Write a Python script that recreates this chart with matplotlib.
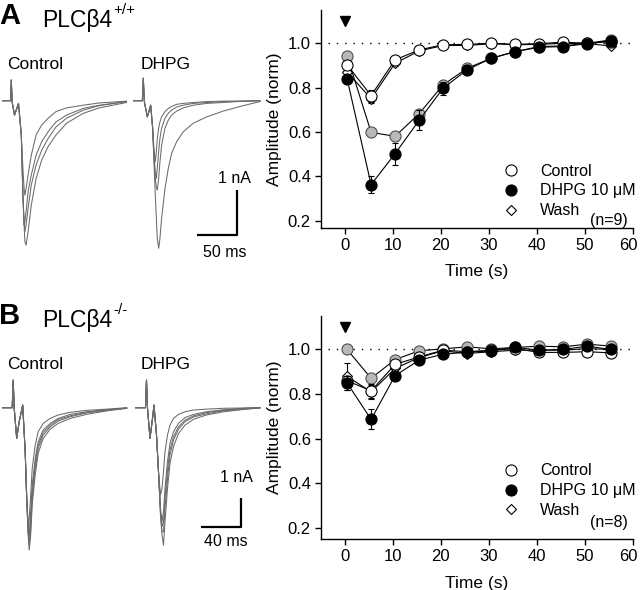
import matplotlib
matplotlib.use("Agg")
import matplotlib.pyplot as plt
from matplotlib.lines import Line2D
from matplotlib.transforms import ScaledTranslation

plt.rcParams['font.family'] = ['Liberation Sans', 'DejaVu Sans']

W, H = 640, 590

# ---------------- data: normalized amplitude vs time ----------------
times = [0.5, 5.5, 10.5, 15.5, 20.5, 25.5, 30.5, 35.5, 40.5, 45.5, 50.5, 55.5]

A_control = [0.902, 0.764, 0.925, 0.970, 0.993, 0.995, 1.000, 0.995, 0.998, 1.005, 1.000, 1.007]
A_dhpg = [0.840, 0.362, 0.502, 0.652, 0.797, 0.880, 0.932, 0.962, 0.982, 0.985, 0.998, 1.012]
A_wash = [0.870, 0.750, 0.910, 0.965, 0.990, 0.990, 0.998, 0.993, 0.995, 1.000, 0.998, 0.988]
A_gray = [0.943, 0.598, 0.580, 0.682, 0.812, 0.887, 0.932, 0.962, 0.985, 0.988, 1.000, 1.015]
A_control_err = [0.010, 0.027, 0.010, 0.008, 0.005, 0.005, 0.004, 0.004, 0.004, 0.004, 0.004, 0.004]
A_dhpg_err = [0.015, 0.037, 0.050, 0.045, 0.030, 0.020, 0.012, 0.008, 0.006, 0.005, 0.005, 0.005]
A_gray_err = [0.010, 0.015, 0.020, 0.015, 0.012, 0.010, 0.008, 0.006, 0.005, 0.005, 0.005, 0.005]
A_wash_err = [0.010, 0.020, 0.012, 0.008, 0.005, 0.005, 0.004, 0.004, 0.004, 0.004, 0.004, 0.004]

B_control = [0.860, 0.815, 0.933, 0.967, 0.997, 0.990, 0.997, 1.004, 0.987, 0.987, 0.990, 0.985]
B_dhpg = [0.850, 0.687, 0.883, 0.952, 0.979, 0.988, 0.994, 1.009, 0.997, 1.000, 1.015, 1.000]
B_wash = [0.880, 0.810, 0.915, 0.964, 0.994, 0.982, 0.990, 0.997, 0.997, 0.997, 1.004, 1.000]
B_gray = [1.000, 0.871, 0.955, 0.994, 1.003, 1.012, 1.003, 1.009, 1.015, 1.012, 1.024, 1.015]
B_control_err = [0.020, 0.030, 0.012, 0.008, 0.005, 0.005, 0.004, 0.004, 0.004, 0.004, 0.004, 0.004]
B_dhpg_err = [0.030, 0.045, 0.020, 0.010, 0.006, 0.005, 0.004, 0.004, 0.004, 0.004, 0.004, 0.004]
B_wash_err = [0.060, 0.030, 0.015, 0.008, 0.005, 0.005, 0.004, 0.004, 0.004, 0.004, 0.004, 0.004]
B_gray_err = [0.005, 0.015, 0.008, 0.005, 0.004, 0.004, 0.004, 0.004, 0.004, 0.004, 0.004, 0.004]

legend_labels = ["Control", "DHPG 10 \u03bcM", "Wash"]
n_labels = ["(n=9)", "(n=8)"]
x_ticks = [0, 10, 20, 30, 40, 50, 60]
y_ticks = [0.2, 0.4, 0.6, 0.8, 1.0]
stim_time = 0

# ---------------- data: EPSC traces (time in ms, current in nA) ----------------
tA_ctrl = [0, 11, 12, 13, 16, 21, 24.5, 26.5, 28, 29, 30.5, 33, 37, 43, 50, 58, 68, 81, 102, 122, 156]
A_ctrl_traces = [
    [0, 0, 0.46, -0.02, -0.32, -0.06, -0.76, -1.50, -1.95, -2.10, -1.95, -1.65, -1.21, -0.76, -0.54, -0.39, -0.24, -0.16, -0.10, -0.05, -0.01],
    [0, 0, 0.46, -0.02, -0.32, -0.06, -0.76, -2.10, -2.76, -2.69, -2.47, -2.02, -1.65, -1.21, -0.91, -0.69, -0.47, -0.32, -0.17, -0.10, -0.02],
    [0, 0, 0.46, -0.02, -0.32, -0.06, -0.76, -2.10, -2.69, -2.91, -2.76, -2.39, -1.87, -1.43, -1.10, -0.84, -0.58, -0.39, -0.21, -0.11, -0.02],
    [0, 0, 0.46, -0.02, -0.32, -0.06, -0.76, -2.10, -2.76, -3.13, -3.21, -2.91, -2.32, -1.73, -1.32, -1.02, -0.76, -0.50, -0.28, -0.16, -0.04],
]
tA_dhpg = [0, 11.3, 12.5, 13.8, 17.5, 21.7, 24.2, 25.8, 27.5, 28.8, 30, 31.7, 33.3, 35.4, 39.6, 43.8, 47.9, 54.2, 62.5, 75, 91.7, 112.5, 137.5, 158.3]
A_dhpg_traces = [
    [0, 0, 0.50, -0.02, -0.36, -0.10, -0.61, -1.06, -1.36, -1.13, -0.84, -0.61, -0.47, -0.36, -0.24, -0.17, -0.13, -0.08, -0.06, -0.04, -0.02, -0.01, -0.01, 0],
    [0, 0, 0.50, -0.02, -0.36, -0.10, -0.61, -1.21, -1.58, -1.73, -1.50, -1.13, -0.84, -0.61, -0.39, -0.28, -0.21, -0.14, -0.10, -0.06, -0.04, -0.02, -0.01, 0],
    [0, 0, 0.50, -0.02, -0.36, -0.10, -0.61, -1.28, -1.73, -1.91, -1.99, -1.73, -1.36, -0.99, -0.61, -0.43, -0.32, -0.23, -0.16, -0.10, -0.06, -0.04, -0.01, 0],
    [0, 0, 0.50, -0.02, -0.36, -0.10, -0.61, -1.36, -2.10, -2.61, -3.06, -3.28, -3.06, -2.61, -1.95, -1.50, -1.17, -0.91, -0.69, -0.50, -0.36, -0.23, -0.11, -0.02],
]
tB_ctrl = [0, 10.5, 11.5, 12.5, 15, 17.5, 21, 23.5, 25, 26.5, 27.5, 29, 30.5, 33.5, 36.5, 41.5, 48.5, 56.5, 68.5, 85, 105, 125]
B_ctrl_traces = [
    [0, 0, 0.95, -0.02, -1.06, -0.48, 0.09, -1.52, -3.01, -4.05, -3.82, -3.01, -2.09, -1.29, -0.83, -0.54, -0.37, -0.25, -0.16, -0.09, -0.05, 0],
    [0, 0, 0.95, -0.02, -1.06, -0.48, 0.09, -1.52, -3.13, -4.28, -4.33, -3.59, -2.67, -1.75, -1.17, -0.77, -0.54, -0.37, -0.23, -0.14, -0.07, -0.01],
    [0, 0, 0.95, -0.02, -1.06, -0.48, 0.09, -1.52, -3.13, -4.28, -4.51, -3.82, -2.90, -1.92, -1.29, -0.85, -0.60, -0.41, -0.28, -0.16, -0.08, -0.01],
    [0, 0, 0.95, -0.02, -1.06, -0.48, 0.09, -1.52, -3.13, -4.33, -4.74, -4.16, -3.13, -2.09, -1.40, -0.94, -0.66, -0.46, -0.31, -0.18, -0.09, -0.02],
    [0, 0, 0.95, -0.02, -1.06, -0.48, 0.09, -1.52, -3.13, -4.39, -4.91, -4.39, -3.36, -2.32, -1.57, -1.06, -0.74, -0.54, -0.37, -0.23, -0.11, -0.02],
]
tB_dhpg = [0, 10.5, 11.5, 12.5, 15, 17.5, 19, 21.5, 23.5, 25.5, 27, 28.5, 30, 32.5, 35, 38.5, 43.5, 50, 58.5, 71.5, 88.5, 108.5, 125]
B_dhpg_traces = [
    [0, 0, 0.95, -0.02, -1.06, -0.37, 0.09, -0.94, -2.21, -3.01, -2.78, -2.21, -1.52, -0.94, -0.60, -0.37, -0.23, -0.14, -0.08, -0.05, -0.02, -0.01, 0],
    [0, 0, 0.95, -0.02, -1.06, -0.37, 0.09, -0.94, -2.21, -3.47, -3.93, -3.59, -2.78, -1.86, -1.23, -0.83, -0.54, -0.34, -0.23, -0.14, -0.07, -0.02, 0],
    [0, 0, 0.95, -0.02, -1.06, -0.37, 0.09, -0.94, -2.21, -3.59, -4.10, -3.93, -3.13, -2.15, -1.46, -1.00, -0.66, -0.43, -0.28, -0.17, -0.09, -0.03, 0],
    [0, 0, 0.95, -0.02, -1.06, -0.37, 0.09, -0.94, -2.21, -3.64, -4.28, -4.28, -3.47, -2.44, -1.63, -1.11, -0.74, -0.48, -0.32, -0.21, -0.11, -0.05, 0],
    [0, 0, 0.95, -0.02, -1.06, -0.37, 0.09, -0.94, -2.21, -3.70, -4.39, -4.74, -3.93, -2.78, -1.92, -1.34, -0.89, -0.60, -0.40, -0.25, -0.14, -0.06, -0.01],
]
scale_nA = 1.0
scale_ms_A = 50
scale_ms_B = 40
trace_titles = ["Control", "DHPG"]
genotypes = [("A", "+/+"), ("B", "-/-")]

# ---------------- figure ----------------
fig = plt.figure(figsize=(W / 100, H / 100), dpi=100)


def px_axes(x0, y0, x1, y1):
    return fig.add_axes([x0 / W, 1 - y1 / H, (x1 - x0) / W, (y1 - y0) / H])


TRACE_COLOR = '0.42'


def trace_axes(x0, y0, x1, y1, ms_per_px, px_per_nA, base_y, t_list, traces):
    ax = px_axes(x0, y0, x1, y1)
    ax.set_xlim(0, (x1 - x0) * ms_per_px)
    ax.set_ylim(-(y1 - base_y) / px_per_nA, (base_y - y0) / px_per_nA)
    ax.axis('off')
    for tr in traces:
        ax.plot(t_list, tr, color=TRACE_COLOR, lw=0.75, solid_joinstyle='round')
    return ax


# Panel A traces
axAc = trace_axes(1.7, 70, 131.7, 260, 1.25, 45, 100.7, tA_ctrl, A_ctrl_traces)
axAd = trace_axes(133.3, 70, 263.3, 260, 1.25, 45, 100.7, tA_dhpg, A_dhpg_traces)
# Panel B traces
axBc = trace_axes(1.7, 370, 131.7, 565, 1.0, 29, 407.7, tB_ctrl, B_ctrl_traces)
axBd = trace_axes(135, 370, 265, 565, 1.0, 29, 407.7, tB_dhpg, B_dhpg_traces)


# scale bars (drawn in the DHPG trace axes)
def scale_bar(ax, x_end, y_bot, ms_len, nA_len, lab_ms, lab_nA, xt_nA, yt_nA, xt_ms, yt_ms):
    ax.plot([x_end - ms_len, x_end, x_end], [y_bot, y_bot, y_bot + nA_len],
            color='black', lw=1.6, clip_on=False, solid_capstyle='butt')
    ax.text(xt_nA, yt_nA, lab_nA, ha='center', va='baseline', fontsize=11.5)
    ax.text(xt_ms, yt_ms, lab_ms, ha='center', va='top', fontsize=11.5)


scale_bar(axAd, 129.6, -2.98, scale_ms_A, scale_nA, f"{scale_ms_A} ms", f"{scale_nA:g} nA",
          126, -1.83, 114, -3.2)
scale_bar(axBd, 106, -4.1, scale_ms_B, scale_nA, f"{scale_ms_B} ms", f"{scale_nA:g} nA",
          101, -2.55, 91, -4.35)


# text labels
def ftext(x, y, s, **kw):
    fig.text(x / W, 1 - y / H, s, **kw)


for yb, (letter, sup) in zip([0, 300], genotypes):
    ftext(-1, yb + 24, letter, fontsize=21, fontweight='bold', va='baseline', ha='left')
    ftext(42, yb + 27, "PLC\u03b24", fontsize=16.5, va='baseline', ha='left')
    ftext(113, yb + 14, sup, fontsize=11, va='baseline', ha='left')
    ftext(7, yb + 69, trace_titles[0], fontsize=12.5, va='baseline', ha='left')
    ftext(141, yb + 69, trace_titles[1], fontsize=12.5, va='baseline', ha='left')


# ---------------- scatter panels ----------------
def amp_panel(rect_px, ylim, series, errs, n_label, leg_top):
    x0, y0, x1, y1 = rect_px
    ax = px_axes(x0, y0, x1, y1)
    ctrl, dhpg, wash, gray = series
    e_ctrl, e_dhpg, e_wash, e_gray = errs
    ax.set_xlim(-5, 60)
    ax.set_ylim(*ylim)
    ax.hlines(1.0, -3.5, 60, colors='black', linestyles=(0, (1, 5)), lw=1.0, zorder=1)
    ekw = dict(ecolor='black', elinewidth=0.8, capsize=2.2, capthick=0.8)
    ax.errorbar(times, wash, yerr=e_wash, fmt='D', color='black', lw=0.8, ms=5.5,
                mfc='white', mec='black', mew=0.8, zorder=3, **ekw)
    ax.plot(times, wash, color='black', lw=0.8, zorder=3)
    ax.errorbar(times, gray, yerr=e_gray, fmt='o-', color='black', lw=0.8, ms=8,
                mfc='#b8b8b8', mec='#505050', mew=0.8, zorder=4, **ekw)
    ax.errorbar(times, ctrl, yerr=e_ctrl, fmt='o-', color='black', lw=0.8, ms=8,
                mfc='white', mec='black', mew=0.8, zorder=5, **ekw)
    ax.errorbar(times, dhpg, yerr=e_dhpg, fmt='o-', color='black', lw=0.8, ms=8,
                mfc='black', mec='black', mew=0.8, zorder=6, **ekw)
    ax.plot([stim_time], [1.1], marker='v', color='black', ms=6.5, clip_on=False, zorder=7)

    for s in ['top', 'right']:
        ax.spines[s].set_visible(False)
    for s in ['left', 'bottom']:
        ax.spines[s].set_linewidth(1.0)
    ax.set_xticks(x_ticks)
    ax.set_yticks(y_ticks)
    ax.set_yticklabels([f"{v:.1f}" for v in y_ticks])
    ax.tick_params(direction='out', length=4, width=1.0, labelsize=12, pad=3)
    # keep the last x tick label inside the canvas
    last = ax.xaxis.get_major_ticks()[-1].label1
    last.set_transform(last.get_transform() + ScaledTranslation(-3 / 72, 0, fig.dpi_scale_trans))
    ax.set_xlabel("Time (s)", fontsize=12.5)
    ax.set_ylabel("Amplitude (norm)", fontsize=12.5)
    ax.xaxis.set_label_coords(0.5, -0.165)
    ax.yaxis.set_label_coords(-0.125, 0.5)

    handles = [
        Line2D([], [], ls='none', marker='o', ms=8, mfc='white', mec='black', mew=0.8),
        Line2D([], [], ls='none', marker='o', ms=8, mfc='black', mec='black', mew=0.8),
        Line2D([], [], ls='none', marker='D', ms=5.5, mfc='white', mec='black', mew=0.8),
    ]
    ax.legend(handles, legend_labels, loc='upper left', bbox_to_anchor=(0.585, leg_top),
              frameon=False, fontsize=11.5, handlelength=1.0, handletextpad=1.3,
              labelspacing=0.3, borderpad=0, borderaxespad=0)
    ax.text(0.985, n_label[1], n_label[0], transform=ax.transAxes, ha='right', va='center',
            fontsize=11.5)
    return ax


amp_panel((320.7, 10, 632.7, 228.3), (0.165, 1.15),
          (A_control, A_dhpg, A_wash, A_gray),
          (A_control_err, A_dhpg_err, A_wash_err, A_gray_err),
          (n_labels[0], 0.035), 0.296)
amp_panel((320.7, 316, 632.7, 539.3), (0.15, 1.15),
          (B_control, B_dhpg, B_wash, B_gray),
          (B_control_err, B_dhpg_err, B_wash_err, B_gray_err),
          (n_labels[1], 0.077), 0.34)

fig.savefig("out.png", dpi=100)
